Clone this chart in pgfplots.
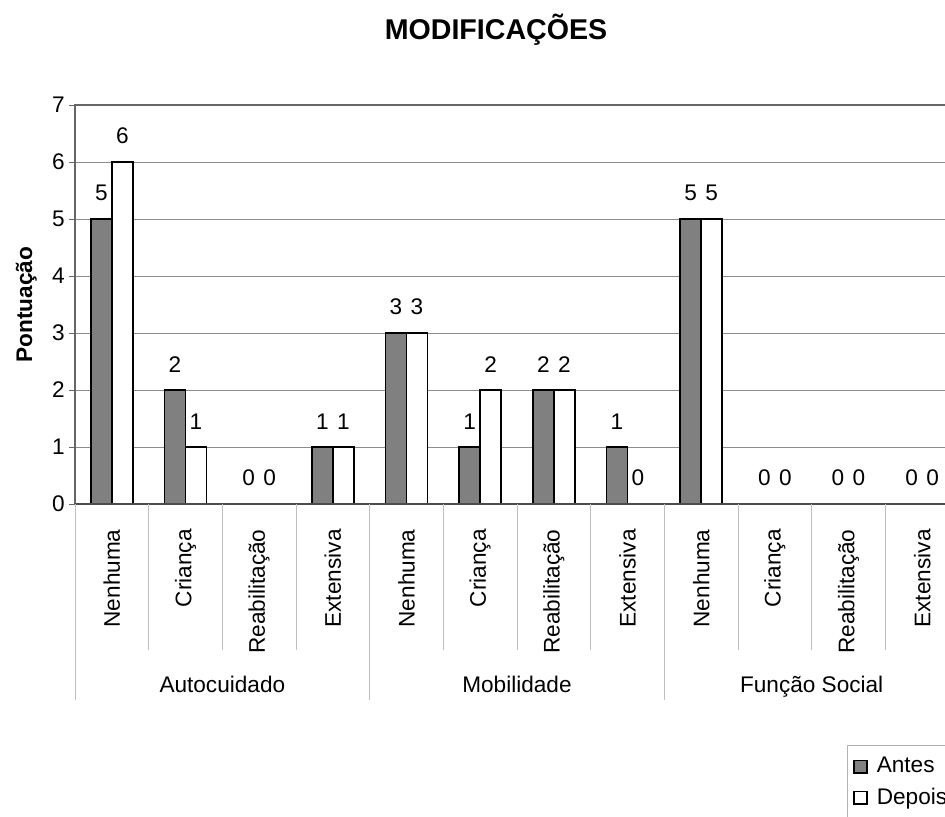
\documentclass[border=0pt]{standalone}
\usepackage{fontspec}
\setmainfont{Liberation Sans}
\usepackage{pgfplots}
\pgfplotsset{compat=1.18}

\newcommand\lab{\fontsize{11.3}{13}\selectfont}

\begin{document}
\begin{tikzpicture}
\begin{axis}[
    at={(37.5pt,156pt)}, anchor=south west,
    scale only axis,
    width=442pt, height=199.5pt,
    ybar=0pt, bar width=10.5pt,
    xmin=-0.5, xmax=11.5, ymin=0, ymax=7,
    ytick={0,...,7},
    xtick={0,...,11},
    xticklabels={Nenhuma,Criança,Reabilitação,Extensiva,Nenhuma,Criança,Reabilitação,Extensiva,Nenhuma,Criança,Reabilitação,Extensiva},
    x tick style={draw=none},
    y tick style={draw=black!60, line width=0.5pt},
    tick align=outside, major tick length=3pt,
    xticklabel style={rotate=90, anchor=east, inner sep=0pt, font=\lab},
    xticklabel shift=9.5pt,
    yticklabel style={inner sep=0pt, font=\lab},
    yticklabel shift=2pt,
    /pgf/number format/assume math mode=true,
    ymajorgrids,
    grid style={draw=black!45, line width=0.5pt},
    axis line style={draw=black!60, line width=0.6pt},
    clip=false,
    ylabel={\bfseries Pontuação},
    every axis y label/.style={at={(axis description cs:-0.055,0.5)}, rotate=90, anchor=center, font=\lab},
    nodes near coords,
    every node near coord/.append style={font=\lab, inner sep=0pt, anchor=south, yshift=8.5pt, text=black},
    legend style={at={(axis description cs:0.8733,-0.604)}, anchor=north west,
        draw=black!30, font=\lab, row sep=2pt, inner xsep=3pt, inner ysep=4pt},
    legend cell align=left,
]
\addplot[draw=black, line width=0.8pt, fill=black!50,
    legend image code/.code={\draw[draw=black, line width=0.6pt, fill=black!50] (0pt,-3.2pt) rectangle (6.5pt,3.2pt); \path (9pt,0pt);}]
    coordinates {(0,5) (1,2) (2,0) (3,1) (4,3) (5,1) (6,2) (7,1) (8,5) (9,0) (10,0) (11,0)};
\addplot[draw=black, line width=0.8pt, fill=white,
    legend image code/.code={\draw[draw=black, line width=0.6pt, fill=white] (0pt,-3.2pt) rectangle (6.5pt,3.2pt); \path (9pt,0pt);}]
    coordinates {(0,6) (1,1) (2,0) (3,1) (4,3) (5,2) (6,2) (7,0) (8,5) (9,0) (10,0) (11,0)};
\legend{Antes,Depois}
% darker base line
\draw[black!70, line width=0.9pt] (axis cs:-0.5,0) -- (axis cs:11.5,0);
% category and group separators under the axis
\pgfplotsinvokeforeach{0.5,1.5,2.5,4.5,5.5,6.5,8.5,9.5,10.5}{
    \draw[black!25, line width=0.5pt] (axis cs:#1,0) -- ([yshift=-73pt]axis cs:#1,0);
}
\pgfplotsinvokeforeach{-0.5,3.5,7.5,11.5}{
    \draw[black!25, line width=0.5pt] (axis cs:#1,0) -- ([yshift=-98pt]axis cs:#1,0);
}
\node[font=\lab, anchor=base] at ([yshift=-94pt]axis cs:1.5,0) {Autocuidado};
\node[font=\lab, anchor=base] at ([yshift=-94pt]axis cs:5.5,0) {Mobilidade};
\node[font=\lab, anchor=base] at ([yshift=-94pt]axis cs:9.5,0) {Função Social};
\end{axis}
\node[anchor=base, font=\bfseries\fontsize{14.3}{16}\selectfont] at (248pt,388pt) {MODIFICAÇÕES};
\pgfresetboundingbox
\path[use as bounding box] (0,0) rectangle (472.5pt,408pt);
\end{tikzpicture}
\end{document}
